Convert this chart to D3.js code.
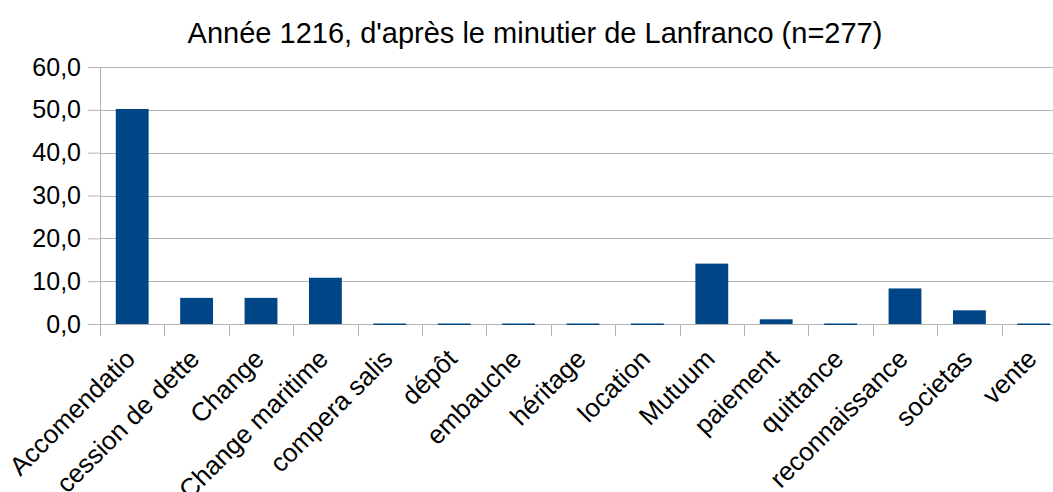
<!DOCTYPE html>
<html>
<head>
<meta charset="utf-8">
<script src="https://cdn.jsdelivr.net/npm/d3@7"></script>
<style>
  body { margin: 0; background: #fff; }
  svg { display: block; font-family: "Liberation Sans", Arial, sans-serif; }
  .grid line { stroke: #b3b3b3; stroke-width: 1; }
  .axis path, .axis line { stroke: #b3b3b3; }
  .axis text { fill: #000; font-size: 25px; }
</style>
</head>
<body>
<script>
var title = "Année 1216, d'après le minutier de Lanfranco (n=277)";

var categories = ["Accomendatio", "cession de dette", "Change", "Change maritime", "compera salis",
  "dépôt", "embauche", "héritage", "location", "Mutuum", "paiement", "quittance",
  "reconnaissance", "societas", "vente"];

var values = [50.2, 6.1, 6.1, 10.8, 0, 0, 0, 0, 0, 14.1, 1.1, 0, 8.3, 3.2, 0];

var yTicks = [0, 10, 20, 30, 40, 50, 60];

var margin = {top: 67, right: -13, bottom: 168, left: 100},
    width = 1053 - margin.left - margin.right,
    height = 492 - margin.top - margin.bottom;

var x = d3.scaleBand()
    .domain(categories)
    .range([0, width])
    .paddingInner(0.49)
    .paddingOuter(0.245);

var xTick = d3.scaleBand()
    .domain(categories)
    .range([0, width]);

var y = d3.scaleLinear()
    .domain([0, 60])
    .range([height, 0]);

var fmt = function(d) { return d3.format(".1f")(d).replace(".", ","); };

var svg = d3.select("body").append("svg")
    .attr("width", 1053)
    .attr("height", 492);

svg.append("text")
    .attr("x", 535)
    .attr("y", 43)
    .attr("text-anchor", "middle")
    .style("font-size", "29px")
    .text(title);

var g = svg.append("g")
    .attr("transform", "translate(" + margin.left + "," + margin.top + ")");

g.append("g")
    .attr("class", "grid")
  .selectAll("line")
    .data(yTicks)
  .enter().append("line")
    .attr("x1", 0)
    .attr("x2", width)
    .attr("y1", function(d) { return Math.round(y(d)) + 0.5; })
    .attr("y2", function(d) { return Math.round(y(d)) + 0.5; });

// y axis
var yAxis = g.append("g")
    .attr("class", "axis")
    .call(d3.axisLeft(y).tickValues(yTicks).tickFormat(fmt).tickSize(12).tickPadding(7));
yAxis.select(".domain").remove();
g.append("line")
    .attr("x1", 0.5).attr("x2", 0.5)
    .attr("y1", 0).attr("y2", height)
    .attr("stroke", "#b3b3b3");

// x axis ticks at category boundaries
g.append("g")
    .attr("class", "axis")
  .selectAll("line")
    .data(categories)
  .enter().append("line")
    .attr("x1", function(d) { return Math.round(xTick(d)) + 0.5; })
    .attr("x2", function(d) { return Math.round(xTick(d)) + 0.5; })
    .attr("y1", height)
    .attr("y2", height + 12);

g.append("line")
    .attr("x1", 0).attr("x2", width)
    .attr("y1", height + 0.5).attr("y2", height + 0.5)
    .attr("stroke", "#b3b3b3");

// bars
g.selectAll(".bar")
    .data(values)
  .enter().append("rect")
    .attr("class", "bar")
    .attr("x", function(d, i) { return x(categories[i]); })
    .attr("width", x.bandwidth())
    .attr("y", function(d) { return d === 0 ? height - 0.5 : y(d); })
    .attr("height", function(d) { return d === 0 ? 1.5 : height - y(d); })
    .style("fill", "#004586");

// rotated category labels
g.selectAll(".xlabel")
    .data(categories)
  .enter().append("text")
    .attr("class", "xlabel")
    .attr("transform", function(d) {
      return "translate(" + (xTick(d) + xTick.bandwidth() / 2 - 2) + "," + (height + 30) + ") rotate(-45)";
    })
    .attr("text-anchor", "end")
    .attr("dy", "0.35em")
    .style("font-size", "26px")
    .text(function(d) { return d; });
</script>
</body>
</html>
